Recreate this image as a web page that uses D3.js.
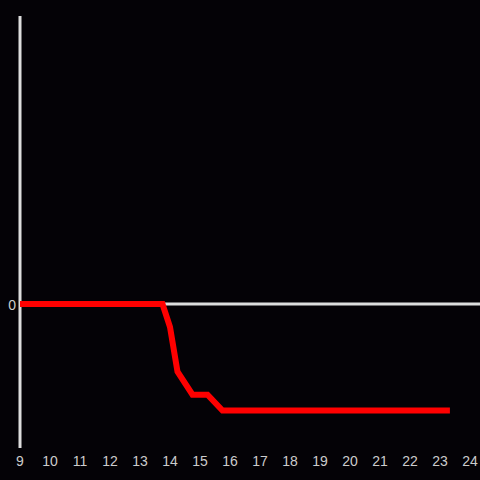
<!DOCTYPE html>
<html>
<head>
<meta charset="utf-8">
<script src="https://cdn.jsdelivr.net/npm/d3@7"></script>
<style>
  html, body { margin: 0; padding: 0; background: #040206; }
  svg { display: block; }
</style>
</head>
<body>
<svg id="chart" width="480" height="480"></svg>
<script>
// hours of day (decimal) and value
const hours  = [9, 13.75, 14.0, 14.25, 14.75, 15.25, 15.75, 23.33]
const values = [0, 0, -0.8, -2.35, -3.15, -3.15, -3.7, -3.7]
const xTicks = d3.range(9, 25)
const yTicks = [0]

const width = 480, height = 480
const svg = d3.select("#chart")

svg.append("rect")
  .attr("width", width).attr("height", height)
  .attr("fill", "#040206")

let x = d3.scaleLinear().domain([9, 24]).range([20, 470])
let y = d3.scaleLinear().domain([-5, 10]).range([448, 16])

// vertical axis
svg.append("line")
  .attr("x1", x(9)).attr("x2", x(9))
  .attr("y1", y(10)).attr("y2", y(-5))
  .attr("stroke", "#dddddd").attr("stroke-width", 3)

// zero line
svg.append("line")
  .attr("x1", x(9)).attr("x2", width)
  .attr("y1", y(0)).attr("y2", y(0))
  .attr("stroke", "#dddddd").attr("stroke-width", 3)

// x tick labels
svg.append("g").selectAll("text")
  .data(xTicks)
  .join("text")
  .attr("x", d => x(d))
  .attr("y", 466)
  .attr("text-anchor", "middle")
  .attr("fill", "#cccccc")
  .attr("font-family", "'Liberation Sans', Arial, sans-serif")
  .attr("font-size", 14)
  .text(d => d)

// y tick labels
svg.append("g").selectAll("text")
  .data(yTicks)
  .join("text")
  .attr("x", 16)
  .attr("y", d => y(d) + 6)
  .attr("text-anchor", "end")
  .attr("fill", "#cccccc")
  .attr("font-family", "'Liberation Sans', Arial, sans-serif")
  .attr("font-size", 14)
  .text(d => d)

// series
let line = d3.line()
  .x((d, i) => x(hours[i]))
  .y(d => y(d))

svg.append("path")
  .datum(values)
  .attr("d", line)
  .attr("fill", "none")
  .attr("stroke", "#ff0000")
  .attr("stroke-width", 6)
  .attr("stroke-linejoin", "miter")
</script>
</body>
</html>
